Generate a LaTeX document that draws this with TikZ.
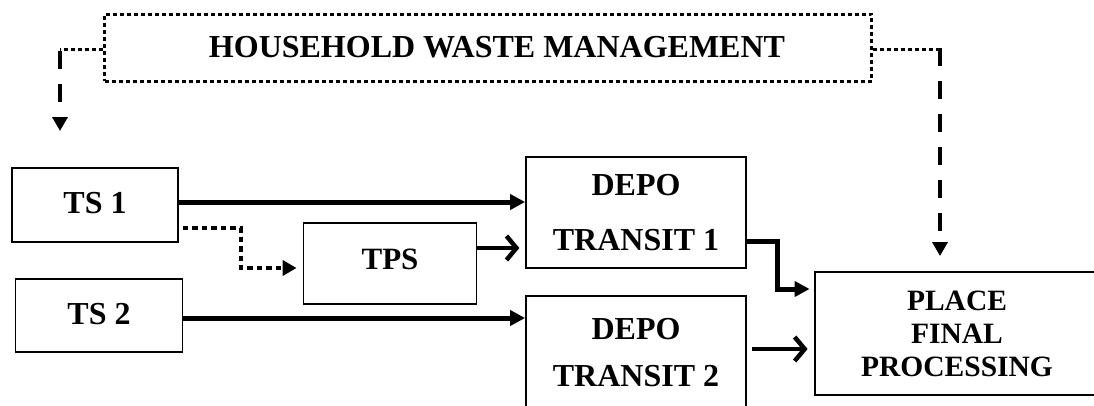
\documentclass[tikz,border=0pt]{standalone}
\usepackage{fontspec}
\setmainfont{Liberation Serif}
\usetikzlibrary{arrows.meta,shapes,positioning}

\tikzset{
    box/.style={draw,line width=1.8pt,rectangle,inner sep=0pt,align=center,
        font=\fontsize{32}{33}\selectfont\bfseries},
    flow/.style={line width=5pt,-{Triangle[length=15pt,width=15pt]}},
    flowopen/.style={line width=4.5pt,-{Straight Barb[length=10pt,width=24pt,line width=4.5pt]}},
    dotline/.style={line width=3pt,dash pattern=on 4pt off 3pt},
    dotflow/.style={line width=3.5pt,dash pattern=on 5.5pt off 4pt,-{Triangle[length=14pt,width=15pt]}},
    dashflow/.style={line width=4.5pt,dash pattern=on 18pt off 15pt,-{Triangle[length=14pt,width=15pt]}}
}

\begin{document}
\begin{tikzpicture}[x=1pt,y=-1pt]
    \useasboundingbox (0,0) rectangle (1094,405);
    % header
    \node[box,dotline,minimum width=767pt,minimum height=67pt] (hdr) at (488,47.5)
        {\hspace*{18pt}HOUSEHOLD WASTE MANAGEMENT};
    % sources
    \node[box,minimum width=166pt,minimum height=74pt] (ts1) at (95,205) {\raisebox{4pt}{TS 1}};
    \node[box,minimum width=167pt,minimum height=73pt] (ts2) at (99,315.5) {\raisebox{3pt}{TS 2}};
    \node[box,minimum width=173pt,minimum height=81pt,font=\fontsize{31}{33}\selectfont\bfseries]
        (tps) at (390,263.5) {\raisebox{8.5pt}{TPS}};
    % depots
    \node[box,minimum width=220pt,minimum height=111pt,
        font=\fontsize{32}{55}\selectfont\bfseries] (dt1) at (636,212.5) {DEPO\\TRANSIT 1};
    \node[box,minimum width=220pt,minimum height=114pt,
        font=\fontsize{32}{47}\selectfont\bfseries] (dt2) at (636,353) {DEPO\\TRANSIT 2};
    % final box runs past the right edge
    \node[box,draw=none,minimum width=283pt,minimum height=121pt,
        font=\fontsize{29.5}{33}\selectfont\bfseries] (pfp) at (957,333.5)
        {PLACE\\FINAL\\PROCESSING};
    \draw[line width=1.8pt] ([xshift=30pt]pfp.north east) -| (pfp.south west)
        -- ([xshift=30pt]pfp.south east);
    % header connectors
    \coordinate (lbend) at (60,49);
    \coordinate (lend) at (60,131);
    \coordinate (rbend) at (940,49);
    \coordinate (rend) at (940,256);
    \draw[dotline] (hdr.west |- lbend) -- (lbend);
    \draw[dashflow] ([yshift=-1.5pt]lbend) -- (lend);
    \draw[dotline] (hdr.east |- rbend) -- (rbend);
    \draw[dashflow] ([yshift=1.5pt]rbend) -- (rend);
    % flows
    \draw[flow] ([yshift=3pt]ts1.east) -- ([yshift=3pt]ts1.east -| dt1.west);
    \draw[dotflow] ([xshift=4pt,yshift=-23pt]ts1.east) -- ++(58,0) |- ([xshift=-6pt,yshift=-4.5pt]tps.west);
    \draw[flowopen] ([yshift=15.5pt]tps.east) -- +(42,0);
    \draw[flow] ([yshift=-2.5pt]ts2.east) -- ([yshift=-2.5pt]ts2.east -| dt2.west);
    \draw[flow] ([yshift=-28.5pt]dt1.east) -- ++(31,0) |- ([xshift=-5pt,yshift=44.5pt]pfp.west);
    \draw[flowopen] ([xshift=5pt,yshift=4pt]dt2.east) -- ([xshift=-7pt,yshift=-15.5pt]pfp.west);
\end{tikzpicture}
\end{document}
